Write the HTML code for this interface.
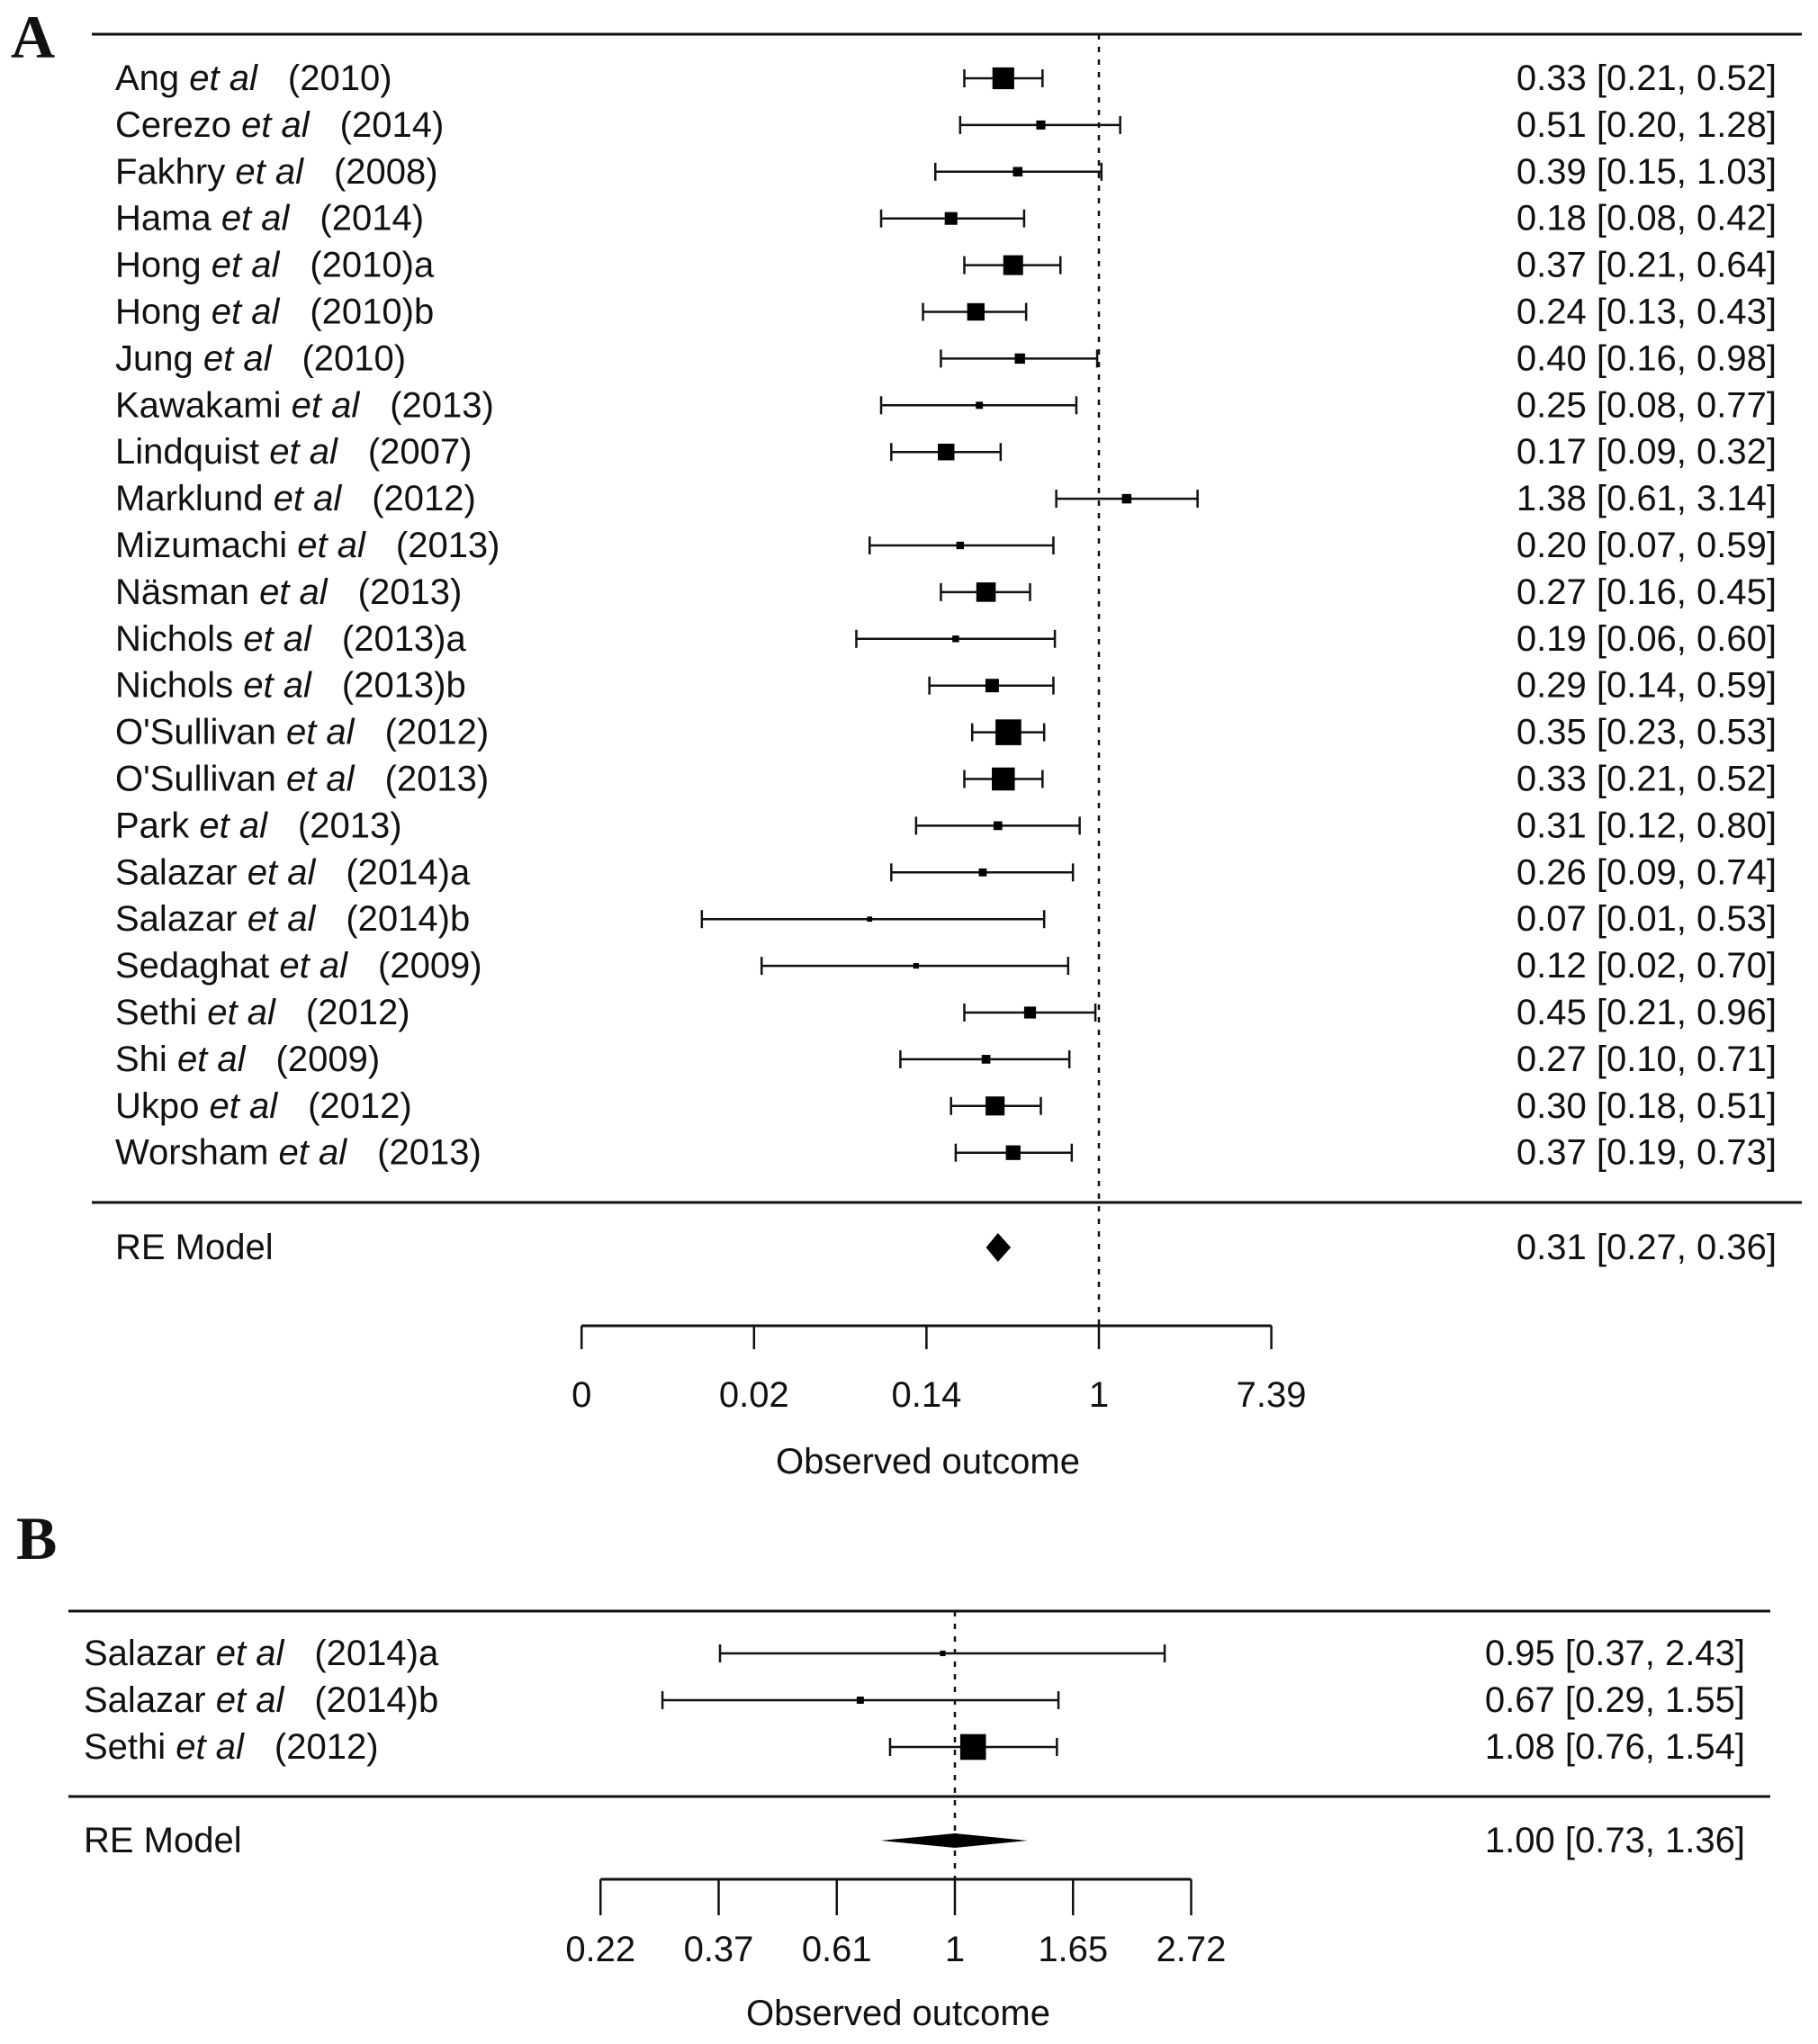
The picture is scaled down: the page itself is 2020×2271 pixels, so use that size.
<!DOCTYPE html>
<html><head><meta charset="utf-8">
<style>
html,body{margin:0;padding:0;background:#fff;}
svg{display:block;}
text{font-family:"Liberation Sans",Arial,sans-serif;fill:#111;}
.lbl{font-family:"Liberation Serif",serif;font-weight:bold;}
</style></head>
<body>
<svg id="chart" width="2020" height="2271" viewBox="0 0 2020 2271" xmlns="http://www.w3.org/2000/svg">
<text class="lbl" x="12" y="64" font-size="68">A</text>
<text class="lbl" x="18" y="1732" font-size="68">B</text>
<g id="pa"></g>
<g id="pb"></g>
</svg>
<script>
// Panel A data
const studiesA = ["Ang|(2010)","Cerezo|(2014)","Fakhry|(2008)","Hama|(2014)","Hong|(2010)a","Hong|(2010)b","Jung|(2010)","Kawakami|(2013)","Lindquist|(2007)","Marklund|(2012)","Mizumachi|(2013)","Näsman|(2013)","Nichols|(2013)a","Nichols|(2013)b","O'Sullivan|(2012)","O'Sullivan|(2013)","Park|(2013)","Salazar|(2014)a","Salazar|(2014)b","Sedaghat|(2009)","Sethi|(2012)","Shi|(2009)","Ukpo|(2012)","Worsham|(2013)"];
const estA = [0.33,0.51,0.39,0.18,0.37,0.24,0.40,0.25,0.17,1.38,0.20,0.27,0.19,0.29,0.35,0.33,0.31,0.26,0.07,0.12,0.45,0.27,0.30,0.37];
const lowA = [0.21,0.20,0.15,0.08,0.21,0.13,0.16,0.08,0.09,0.61,0.07,0.16,0.06,0.14,0.23,0.21,0.12,0.09,0.01,0.02,0.21,0.10,0.18,0.19];
const highA = [0.52,1.28,1.03,0.42,0.64,0.43,0.98,0.77,0.32,3.14,0.59,0.45,0.60,0.59,0.53,0.52,0.80,0.74,0.53,0.70,0.96,0.71,0.51,0.73];
const weightA = [5.5,2.3,2.4,3.2,5.0,4.4,2.6,1.8,4.2,2.4,1.9,4.9,1.7,3.4,6.5,5.8,2.2,2.0,1.3,1.4,3.0,2.2,4.8,3.7];
const reA = [0.31,0.27,0.36];
const ticksA = [-6,-4,-2,0,2];
const tickLabelsA = ["0","0.02","0.14","1","7.39"];
// Panel B data
const studiesB = ["Salazar|(2014)a","Salazar|(2014)b","Sethi|(2012)"];
const estB = [0.95,0.67,1.08];
const lowB = [0.37,0.29,0.76];
const highB = [2.43,1.55,1.54];
const weightB = [1.4,1.8,6.5];
const reB = [1.00,0.73,1.36];
const ticksB = [-1.5,-1,-0.5,0,0.5,1];
const tickLabelsB = ["0.22","0.37","0.61","1","1.65","2.72"];

const NS="http://www.w3.org/2000/svg";
function mk(parent,tag,attrs){const e=document.createElementNS(NS,tag);for(const k in attrs)e.setAttribute(k,attrs[k]);parent.appendChild(e);return e;}
function f2(v){return v.toFixed(2);}

function drawPanel(g,cfg){
  const xs=v=>cfg.x0+Math.log(v)*cfg.k;
  const xl=l=>cfg.x0+l*cfg.k;
  const ys=i=>cfg.y0+i*cfg.dy;
  let e;
  e=mk(g,'line',{x1:cfg.left,x2:cfg.right,y1:cfg.topY,y2:cfg.topY,stroke:'#111','stroke-width':3});
  
  
  e=mk(g,'line',{x1:cfg.left,x2:cfg.right,y1:cfg.sepY,y2:cfg.sepY,stroke:'#111','stroke-width':3});
  
  
  e=mk(g,'line',{x1:xs(1),x2:xs(1),y1:cfg.topY,y2:cfg.axisY,stroke:'#111','stroke-width':2.5,'stroke-dasharray':'6,8'});
  
  
  cfg.names.forEach((nm,i)=>{
    const y=ys(i);const parts=nm.split('|');
    const t=mk(g,'text',{x:cfg.labX,y:y+13,'font-size':cfg.fs});
    
    
    t.setAttribute('xml:space','preserve');
    const a=mk(t,'tspan',{});a.textContent=parts[0]+' ';
    const b=mk(t,'tspan',{'font-style':'italic'});b.textContent='et al';
    const c=mk(t,'tspan',{dx:34});c.textContent=parts[1];
    const ci=mk(g,'g',{});
    
    
    mk(ci,'line',{x1:xs(cfg.low[i]),x2:xs(cfg.high[i]),y1:y,y2:y,stroke:'#111','stroke-width':2.5});
    mk(ci,'line',{x1:xs(cfg.low[i]),x2:xs(cfg.low[i]),y1:y-10,y2:y+10,stroke:'#111','stroke-width':2.5});
    mk(ci,'line',{x1:xs(cfg.high[i]),x2:xs(cfg.high[i]),y1:y-10,y2:y+10,stroke:'#111','stroke-width':2.5});
    const s=cfg.w[i]*2.2;
    const r=mk(g,'rect',{x:xs(cfg.est[i])-s,y:y-s,width:2*s,height:2*s,fill:'#000'});
    
    
    const v=mk(g,'text',{x:cfg.valX,y:y+13,'font-size':cfg.fs,'text-anchor':'end'});
    
    
    v.textContent=f2(cfg.est[i])+' ['+f2(cfg.low[i])+', '+f2(cfg.high[i])+']';
  });
  const ry=cfg.reY;
  const rl=mk(g,'text',{x:cfg.labX,y:ry+13,'font-size':cfg.fs});
  
  
  rl.textContent='RE Model';
  const h=cfg.dh;
  const d=mk(g,'polygon',{points:`${xs(cfg.re[1])},${ry} ${xs(cfg.re[0])},${ry-h} ${xs(cfg.re[2])},${ry} ${xs(cfg.re[0])},${ry+h}`,fill:'#000'});
  
  
  const rv=mk(g,'text',{x:cfg.valX,y:ry+13,'font-size':cfg.fs,'text-anchor':'end'});
  
  
  rv.textContent=f2(cfg.re[0])+' ['+f2(cfg.re[1])+', '+f2(cfg.re[2])+']';
  const ax=mk(g,'g',{});
  
  
  mk(ax,'line',{x1:xl(cfg.ticks[0]),x2:xl(cfg.ticks[cfg.ticks.length-1]),y1:cfg.axisY,y2:cfg.axisY,stroke:'#111','stroke-width':3});
  cfg.ticks.forEach((t,i)=>{
    mk(ax,'line',{x1:xl(t),x2:xl(t),y1:cfg.axisY,y2:cfg.axisY+cfg.tickLen,stroke:'#111','stroke-width':2.5});
    const tl=mk(ax,'text',{x:xl(t),y:cfg.tickLabY,'font-size':cfg.fs,'text-anchor':'middle'});
    
    
    tl.textContent=cfg.tickLabels[i];
  });
  const at=mk(g,'text',{x:cfg.titleX,y:cfg.titleY,'font-size':cfg.fs,'text-anchor':'middle'});
  
  
  at.setAttribute('xml:space','preserve');
  at.textContent='Observed  outcome';
}

drawPanel(document.getElementById('pa'),{names:studiesA,est:estA,low:lowA,high:highA,w:weightA,re:reA,ticks:ticksA,tickLabels:tickLabelsA,
  x0:1221,k:95.8,y0:87,dy:51.9,left:102,right:2002,topY:38,sepY:1336,reY:1386,dh:16,axisY:1473,tickLen:26,tickLabY:1563,
  titleX:1031,titleY:1637,labX:128,valX:1974,fs:40});
drawPanel(document.getElementById('pb'),{names:studiesB,est:estB,low:lowB,high:highB,w:weightB,re:reB,ticks:ticksB,tickLabels:tickLabelsB,
  x0:1061,k:262.5,y0:1837,dy:52,left:76,right:1967,topY:1790,sepY:1996,reY:2045,dh:8,axisY:2088,tickLen:40,tickLabY:2179,
  titleX:998,titleY:2250,labX:93,valX:1939,fs:40});
</script>
</body></html>
